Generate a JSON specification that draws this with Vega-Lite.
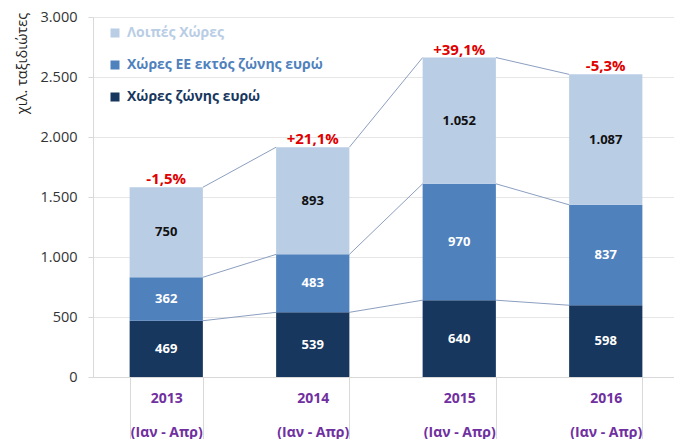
{
  "$schema": "https://vega.github.io/schema/vega-lite/v6.json",
  "width": 581,
  "height": 360,
  "autosize": {"type": "none"},
  "padding": {"left": 93, "top": 17, "right": 0, "bottom": 62},
  "background": "white",
  "config": {
    "locale": {"number": {"decimal": ",", "thousands": ".", "grouping": [3], "currency": ["", " €"]}},
    "font": "Open Sans",
    "view": {"stroke": null}
  },
  "datasets": {
    "bars": [
      {"year": "2013", "series": "Χώρες ζώνης ευρώ", "k": 1, "value": 469},
      {"year": "2013", "series": "Χώρες ΕΕ εκτός ζώνης ευρώ", "k": 2, "value": 362},
      {"year": "2013", "series": "Λοιπές Χώρες", "k": 3, "value": 750},
      {"year": "2014", "series": "Χώρες ζώνης ευρώ", "k": 1, "value": 539},
      {"year": "2014", "series": "Χώρες ΕΕ εκτός ζώνης ευρώ", "k": 2, "value": 483},
      {"year": "2014", "series": "Λοιπές Χώρες", "k": 3, "value": 893},
      {"year": "2015", "series": "Χώρες ζώνης ευρώ", "k": 1, "value": 640},
      {"year": "2015", "series": "Χώρες ΕΕ εκτός ζώνης ευρώ", "k": 2, "value": 970},
      {"year": "2015", "series": "Λοιπές Χώρες", "k": 3, "value": 1052},
      {"year": "2016", "series": "Χώρες ζώνης ευρώ", "k": 1, "value": 598},
      {"year": "2016", "series": "Χώρες ΕΕ εκτός ζώνης ευρώ", "k": 2, "value": 837},
      {"year": "2016", "series": "Λοιπές Χώρες", "k": 3, "value": 1087}
    ],
    "totals": [
      {"year": "2013", "total": 1581, "pct": "-1,5%"},
      {"year": "2014", "total": 1915, "pct": "+21,1%"},
      {"year": "2015", "total": 2662, "pct": "+39,1%"},
      {"year": "2016", "total": 2522, "pct": "-5,3%"}
    ],
    "links": [
      {"year": "2013", "next": "2014", "from": 469, "to": 539},
      {"year": "2013", "next": "2014", "from": 831, "to": 1022},
      {"year": "2013", "next": "2014", "from": 1581, "to": 1915},
      {"year": "2014", "next": "2015", "from": 539, "to": 640},
      {"year": "2014", "next": "2015", "from": 1022, "to": 1610},
      {"year": "2014", "next": "2015", "from": 1915, "to": 2662},
      {"year": "2015", "next": "2016", "from": 640, "to": 598},
      {"year": "2015", "next": "2016", "from": 1610, "to": 1435},
      {"year": "2015", "next": "2016", "from": 2662, "to": 2522}
    ]
  },
  "encoding": {
    "x": {
      "field": "year",
      "type": "nominal",
      "scale": {"domain": ["2013", "2014", "2015", "2016"], "paddingInner": 0.5, "paddingOuter": 0.25, "range": [0, 586]},
      "axis": {
        "title": null,
        "labelAngle": 0,
        "labelExpr": "indexof(['2013','2014','2015','2016'], datum.label) >= 0 ? [datum.label, '(Ιαν - Απρ)'] : ''",
        "labelLineHeight": 34,
        "labelFont": "Open Sans",
        "labelFontSize": 14,
        "labelFontWeight": "bold",
        "labelColor": "#7030A0",
        "labelBaseline": "top",
        "labelPadding": -56,
        "ticks": true,
        "tickBand": "extent",
        "tickSize": 70,
        "tickColor": "#d9d9d9",
        "domainColor": "#d9d9d9",
        "grid": false
      }
    }
  },
  "layer": [
    {
      "data": {"name": "links"},
      "mark": {"type": "rule", "color": "#8C9FC0", "strokeWidth": 1},
      "encoding": {
        "x": {"field": "year", "type": "nominal", "bandPosition": 1},
        "x2": {"field": "next", "bandPosition": 0},
        "y": {"field": "from", "type": "quantitative"},
        "y2": {"field": "to"}
      }
    },
    {
      "data": {"name": "bars"},
      "mark": {"type": "bar"},
      "encoding": {
        "y": {
          "field": "value",
          "type": "quantitative",
          "stack": "zero",
          "scale": {"domain": [0, 3000], "nice": false},
          "axis": {
            "title": "χιλ. ταξιδιώτες",
            "titleFont": "Open Sans",
            "titleFontSize": 14.5,
            "titleFontWeight": "normal",
            "titleColor": "#222222",
            "titleAngle": -90,
            "titleAlign": "center",
            "titleBaseline": "middle",
            "titleX": -71,
            "titleY": 46,
            "values": [0, 500, 1000, 1500, 2000, 2500, 3000],
            "format": ",d",
            "labelFont": "Open Sans",
            "labelFontSize": 14.5,
            "labelColor": "#333333",
            "labelPadding": 11,
            "ticks": true,
            "tickSize": 5,
            "tickColor": "#d9d9d9",
            "domainColor": "#d9d9d9",
            "grid": true,
            "gridColor": "#e6e6e6"
          }
        },
        "color": {
          "field": "series",
          "type": "nominal",
          "scale": {
            "domain": ["Λοιπές Χώρες", "Χώρες ΕΕ εκτός ζώνης ευρώ", "Χώρες ζώνης ευρώ"],
            "range": ["#B9CDE5", "#4F81BD", "#17375E"]
          },
          "legend": {
            "title": null,
            "orient": "none",
            "legendX": 15,
            "legendY": 9,
            "padding": 0,
            "rowPadding": 18,
            "symbolType": "square",
            "symbolSize": 81,
            "symbolStrokeWidth": 0,
            "symbolOpacity": 1,
            "labelFont": "Open Sans",
            "labelFontSize": 14,
            "labelFontWeight": "bold",
            "labelOffset": 5,
            "labelLimit": 400,
            "encode": {"labels": {"update": {"fill": {"scale": "color", "field": "value"}}}}
          }
        },
        "order": {"field": "k", "type": "quantitative", "sort": "ascending"}
      }
    },
    {
      "data": {"name": "bars"},
      "mark": {"type": "text", "font": "Open Sans", "fontSize": 13, "fontWeight": "bold", "baseline": "middle"},
      "encoding": {
        "y": {"field": "value", "type": "quantitative", "stack": "zero", "bandPosition": 0.5},
        "detail": {"field": "series"},
        "order": {"field": "k", "type": "quantitative", "sort": "ascending"},
        "text": {"field": "value", "type": "quantitative", "format": ",d"},
        "color": {"condition": {"test": "datum.k == 3", "value": "#111111"}, "value": "#ffffff"}
      }
    },
    {
      "data": {"name": "totals"},
      "mark": {"type": "text", "font": "Open Sans", "fontSize": 15, "fontWeight": "bold", "baseline": "alphabetic", "dy": -3, "color": "#E00000"},
      "encoding": {
        "y": {"field": "total", "type": "quantitative"},
        "text": {"field": "pct"}
      }
    }
  ]
}
